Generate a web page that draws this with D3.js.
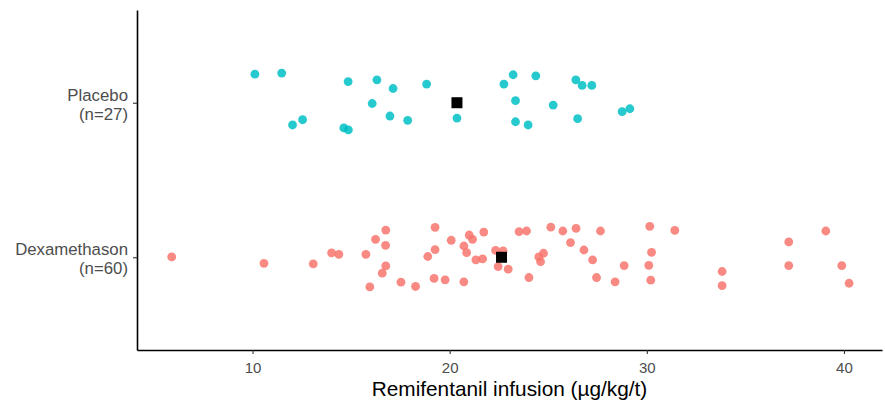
<!DOCTYPE html>
<html lang="en">
<head>
<meta charset="UTF-8">
<title>Remifentanil infusion</title>
<script src="https://cdn.jsdelivr.net/npm/d3@7"></script>
<style>
  body { margin: 0; background: #fff; }
  svg text { font-family: "Liberation Sans", Arial, sans-serif; }
</style>
</head>
<body>
<div id="chart"></div>
<script>
// groups, bottom to top
const groups = ["Dexamethason", "Placebo"];
const groupLabels = [["Dexamethason", "(n=60)"], ["Placebo", "(n=27)"]];
const groupColors = ["#F8766D", "#00BFC4"];

// infusion values, with their vertical jitter (in category units)
const placeboValues = [10.12, 11.48, 14.85, 16.31, 17.13, 18.83, 16.07, 16.97, 17.87, 12.54,
  12.03, 14.63, 14.86, 20.37, 22.75, 23.22, 24.37, 26.40, 26.72, 27.21,
  23.34, 25.25, 23.34, 23.98, 26.49, 28.75, 29.14];
const placeboJitter = [0.185, 0.192, 0.137, 0.148, 0.092, 0.121, -0.005, -0.086, -0.114, -0.110,
  -0.144, -0.163, -0.176, -0.099, 0.121, 0.181, 0.174, 0.148, 0.112, 0.112,
  0.013, -0.015, -0.123, -0.144, -0.103, -0.058, -0.039];

const dexaValues = [5.90, 10.58, 13.08, 14.01, 14.38, 15.75, 16.24, 16.76, 16.75, 16.76,
  16.58, 15.95, 17.53, 18.27, 19.26, 19.26, 18.89, 19.21, 19.77, 20.08,
  20.99, 21.16, 21.73, 20.72, 20.86, 21.33, 21.67, 20.72, 22.33, 22.71,
  22.46, 22.97, 23.52, 23.90, 24.02, 24.52, 25.13, 25.74, 26.41, 27.65,
  26.13, 26.81, 27.25, 24.76, 24.61, 27.45, 28.39, 28.85, 30.15, 31.42,
  30.24, 30.10, 30.20, 33.82, 33.82, 37.20, 37.20, 39.08, 39.89, 40.26];
const dexaJitter = [0.002, -0.039, -0.043, 0.028, 0.019, 0.019, 0.116, 0.176, 0.077, -0.056,
  -0.103, -0.192, -0.161, -0.189, 0.194, 0.050, 0.005, -0.137, -0.146, 0.110,
  0.144, 0.116, 0.163, 0.073, 0.030, -0.017, -0.011, -0.159, 0.045, 0.041,
  -0.060, -0.077, 0.166, 0.170, -0.131, 0.002, 0.195, 0.170, 0.187, 0.170,
  0.095, 0.047, -0.017, 0.026, -0.028, -0.131, -0.159, -0.054, 0.200, 0.174,
  0.032, -0.052, -0.148, -0.092, -0.183, 0.099, -0.054, 0.170, -0.054, -0.168];

// group means (black squares)
const groupMeans = [22.63, 20.37];

const xTicks = [10, 20, 30, 40];
const xTitle = "Remifentanil infusion (\u00b5g/kg/t)";

const width = 885, height = 403;
const margin = { top: 10, right: 3, bottom: 53, left: 137 };

const svg = d3.select("#chart").append("svg")
  .attr("width", width)
  .attr("height", height);

const x = d3.scaleLinear()
  .domain([4.14, 41.93])
  .range([margin.left, width - margin.right]);

const y = d3.scaleLinear()
  .domain([0.4, 2.6])
  .range([height - margin.bottom, margin.top]);

const points = [];
dexaValues.forEach((v, i) => points.push({ g: 0, v: v, j: dexaJitter[i] }));
placeboValues.forEach((v, i) => points.push({ g: 1, v: v, j: placeboJitter[i] }));

svg.append("g").selectAll("circle")
  .data(points)
  .join("circle")
  .attr("cx", d => x(d.v))
  .attr("cy", d => y(d.g + 1 + d.j))
  .attr("r", 4.4)
  .attr("fill", d => groupColors[d.g])
  .attr("fill-opacity", 0.85);

const sq = 11;
svg.append("g").selectAll("rect")
  .data(groupMeans)
  .join("rect")
  .attr("x", d => x(d) - sq / 2)
  .attr("y", (d, i) => y(i + 1) - sq / 2)
  .attr("width", sq)
  .attr("height", sq)
  .attr("fill", "#000");

// x axis
const xAxis = svg.append("g")
  .attr("transform", `translate(0,${height - margin.bottom})`)
  .call(d3.axisBottom(x).tickValues(xTicks).tickSize(4).tickPadding(8).tickSizeOuter(0));
xAxis.select(".domain").attr("stroke", "#000").attr("stroke-width", 1.6);
xAxis.selectAll(".tick line").attr("stroke", "#333").attr("stroke-width", 1.1);
xAxis.selectAll(".tick text").attr("fill", "#4D4D4D").style("font-size", "15px");

// y axis
const yAxis = svg.append("g")
  .attr("transform", `translate(${margin.left},0)`)
  .call(d3.axisLeft(y).tickValues([1, 2]).tickSize(4).tickPadding(5).tickSizeOuter(0)
    .tickFormat(() => ""));
yAxis.select(".domain").attr("stroke", "#000").attr("stroke-width", 1.6);
yAxis.selectAll(".tick line").attr("stroke", "#333").attr("stroke-width", 1.1);
yAxis.selectAll(".tick text")
  .attr("fill", "#4D4D4D")
  .style("font-size", "16.8px")
  .attr("dy", null)
  .each(function (d) {
    const lines = groupLabels[d - 1];
    const t = d3.select(this);
    lines.forEach((s, k) => {
      t.append("tspan")
        .attr("x", -9)
        .attr("y", k === 0 ? -2.5 : 16.5)
        .text(s);
    });
  });

svg.append("text")
  .attr("x", (margin.left + width - margin.right) / 2)
  .attr("y", 396)
  .attr("text-anchor", "middle")
  .attr("fill", "#000")
  .style("font-size", "20.8px")
  .text(xTitle);
</script>
</body>
</html>
